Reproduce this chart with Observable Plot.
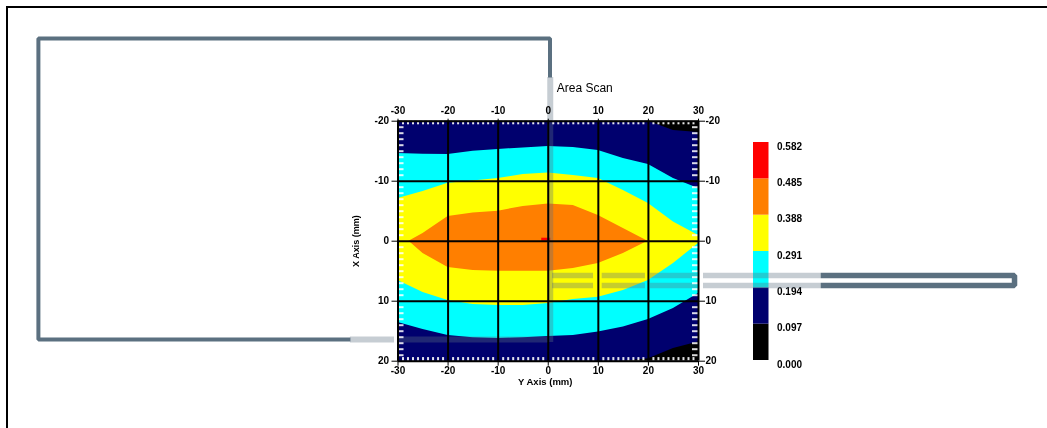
<!DOCTYPE html>
<html><head><meta charset="utf-8">
<script src="https://cdn.jsdelivr.net/npm/d3@7"></script>
<script src="https://cdn.jsdelivr.net/npm/@observablehq/plot@0.6"></script>
<style>
html,body{margin:0;padding:0;background:#fff;width:1047px;height:428px;overflow:hidden}
#frame{position:absolute;left:6px;top:6px;right:0;bottom:0;border-left:2px solid #000;border-top:2px solid #000}
#stage svg{position:absolute;filter:blur(.45px)}
</style></head><body>
<div id="frame"></div><div id="stage"></div>
<script>
// contour boundaries (mm)
const gridX=[-30,-25,-20,-15,-10,-5,0,5,10,15,20,25,30];
const navyTop=[-20,-20,-20,-20,-20,-20,-20,-20,-20,-20,-20,-18.45,-18.1];
const navyBottom=[20,20,20,20,20,20,20,20,20,20,19.6,17.9,16.8];
const cyanTop=[-14.6,-14.5,-14.45,-15,-15.3,-15.55,-15.8,-15.6,-15.1,-13.8,-12.8,-10.45,-8.8];
const cyanBottom=[13.55,14.7,15.7,16.1,16.2,16.1,15.9,15.7,15.15,14.3,13.05,11.2,8.7];
const yellowTop=[-7.1,-8.3,-9.65,-10.05,-10.45,-11.1,-11.35,-10.95,-10.45,-8.45,-6.3,-3.2,-0.95];
const yellowBottom=[6.55,8.55,9.9,10.55,10.7,10.7,10.4,9.7,9.35,8.2,6.55,3.7,0.4];
const orangeX=[-27.8,-25,-20,-15,-10,-5,0,5,10,15,19.9];
const orangeTop=[0,-1.3,-4.1,-4.7,-5,-5.8,-6.2,-5.95,-4.3,-2.1,0];
const orangeBottom=[0,2.05,4.4,4.9,5,5,5,4.55,3.7,2.05,0];
const redX=[-1.3,0.5];
const redTop=[-0.5,-0.5];
const redBottom=[0,0];

// axes
const xTicks=[-30,-20,-10,0,10,20,30];
const yTicks=[-20,-10,0,10,20];
const minorX=d3.range(-29,30).filter(d=>d%10!==0);
const minorY=d3.range(-19,20).filter(d=>d%10!==0);

// legend
const legendLevels=[0,0.097,0.194,0.291,0.388,0.485,0.582];
const legendColors=["#000000","#00006e","#00ffff","#ffff00","#ff7f00","#ff0000"];

// scan outline, in the same mm coordinates
const outlineX=[0.35,0.35,-101.8,-101.8,-39.5];
const outlineY=[-27.3,-33.8,-33.8,16.4,16.4];
const returnX=[54.36,93.1,93.1,54.36];
const returnY=[5.72,5.72,7.38,7.38];
const fadedX1=[0.85,10.77,20.4,31];
const fadedX2=[9.04,19.4,29.8,54.36];
const fadedRows=[5.72,7.38];

const toBand=(xs,a,b)=>xs.map((x,i)=>({x,y1:a[i],y2:b[i]}));
const font='"Liberation Sans",Arial,sans-serif';
const outlineColor="#5b7080";

const legend=Plot.plot({
  width:120,height:260,marginLeft:0,marginRight:104.5,marginTop:22,marginBottom:20,
  style:{background:"transparent",fontFamily:font,fontSize:"10px",color:"#000"},
  x:{domain:[0,1],axis:null},
  y:{domain:[0,0.582]},
  marks:[
    Plot.rect(legendColors.map((c,i)=>({c,y1:legendLevels[i],y2:legendLevels[i+1]})),
      {x1:0,x2:1,y1:"y1",y2:"y2",fill:"c"}),
    Plot.axisY(legendLevels,{anchor:"right",label:null,tickSize:0,tickPadding:8,
      tickFormat:d3.format(".3f"),textAnchor:"start",dy:4,fontWeight:"bold",fill:"#000"})
  ],
  color:{type:"identity"}
});
legend.style.left="752.7px";legend.style.top="120px";

const chart=Plot.plot({
  width:1047,height:428,marginLeft:397.5,marginRight:349,marginTop:120.7,marginBottom:67.3,
  style:{background:"transparent",fontFamily:font,fontSize:"10px",color:"#000",overflow:"visible"},
  x:{domain:[-30,30]},
  y:{domain:[-20,20],reverse:true},
  marks:[
    Plot.rect([0],{x1:-30,x2:30,y1:-20,y2:20,fill:"#000"}),
    Plot.areaY(toBand(gridX,navyTop,navyBottom),{x:"x",y1:"y1",y2:"y2",fill:"#00006e"}),
    Plot.areaY(toBand(gridX,cyanTop,cyanBottom),{x:"x",y1:"y1",y2:"y2",fill:"#00ffff"}),
    Plot.areaY(toBand(gridX,yellowTop,yellowBottom),{x:"x",y1:"y1",y2:"y2",fill:"#ffff00"}),
    Plot.areaY(toBand(orangeX,orangeTop,orangeBottom),{x:"x",y1:"y1",y2:"y2",fill:"#ff7f00"}),
    Plot.areaY(toBand(redX,redTop,redBottom),{x:"x",y1:"y1",y2:"y2",fill:"#ff0000"}),
    // faded part of the outline
    Plot.ruleX([0.4],{y1:-27.3,y2:16.9,stroke:outlineColor,strokeWidth:6,strokeOpacity:.35}),
    Plot.ruleY([16.4],{x1:-39.5,x2:-30.7,stroke:outlineColor,strokeWidth:6,strokeOpacity:.35}),
    Plot.ruleY([16.4],{x1:-30,x2:0,stroke:outlineColor,strokeWidth:6,strokeOpacity:.35}),
    ...fadedRows.map(r=>Plot.ruleY(fadedX1.map((x1,i)=>({x1,x2:fadedX2[i]})),
      {y:()=>r,x1:"x1",x2:"x2",stroke:outlineColor,strokeWidth:5.5,strokeOpacity:.35})),
    // solid part of the outline
    Plot.line(outlineX.map((x,i)=>({x,y:outlineY[i]})),{x:"x",y:"y",stroke:outlineColor,strokeWidth:4,strokeLinejoin:"miter",strokeLinecap:"butt"}),
    Plot.line(returnX.map((x,i)=>({x,y:returnY[i]})),{x:"x",y:"y",stroke:outlineColor,strokeWidth:5.5,strokeLinejoin:"miter",strokeLinecap:"butt"}),
    // minor ticks
    Plot.ruleY(minorY,{x1:-30,x2:-28.8,stroke:"#fff",strokeWidth:2,strokeOpacity:.85}),
    Plot.ruleY(minorY,{x1:28.8,x2:30,stroke:"#fff",strokeWidth:2,strokeOpacity:.85}),
    Plot.ruleX(minorX,{y1:-20,y2:-19.4,stroke:"#fff",strokeWidth:2,strokeOpacity:.9}),
    Plot.ruleX(minorX,{y1:19.4,y2:20,stroke:"#fff",strokeWidth:2,strokeOpacity:.9}),
    // grid and frame
    Plot.ruleX(xTicks,{stroke:"#000",strokeWidth:2}),
    Plot.ruleY(yTicks,{stroke:"#000",strokeWidth:2}),
    Plot.axisX(xTicks,{anchor:"bottom",label:null,tickSize:5,tickPadding:1,tickFormat:d=>d,fontWeight:"bold"}),
    Plot.axisX(xTicks,{anchor:"top",label:null,tickSize:3,tickPadding:4,tickFormat:d=>d,fontWeight:"bold"}),
    Plot.axisY(yTicks,{anchor:"left",label:null,tickSize:6,tickPadding:3,tickFormat:d=>d,fontWeight:"bold"}),
    Plot.axisY(yTicks,{anchor:"right",label:null,tickSize:6,tickPadding:1,tickFormat:d=>d,fontWeight:"bold"}),
    // titles
    Plot.text(["Area Scan"],{x:1.7,y:-25.5,textAnchor:"start",fontSize:12,fill:"#000"}),
    Plot.text(["Y Axis (mm)"],{x:-0.6,y:23.5,fontSize:9.5,fontWeight:"bold",fill:"#000"}),
    Plot.text(["X Axis (mm)"],{x:-38.4,y:0,rotate:-90,fontSize:9,fontWeight:"bold",fill:"#000"})
  ]
});
chart.style.left="0";chart.style.top="0";
const stage=document.getElementById("stage");
stage.append(legend,chart);
</script>
</body></html>
